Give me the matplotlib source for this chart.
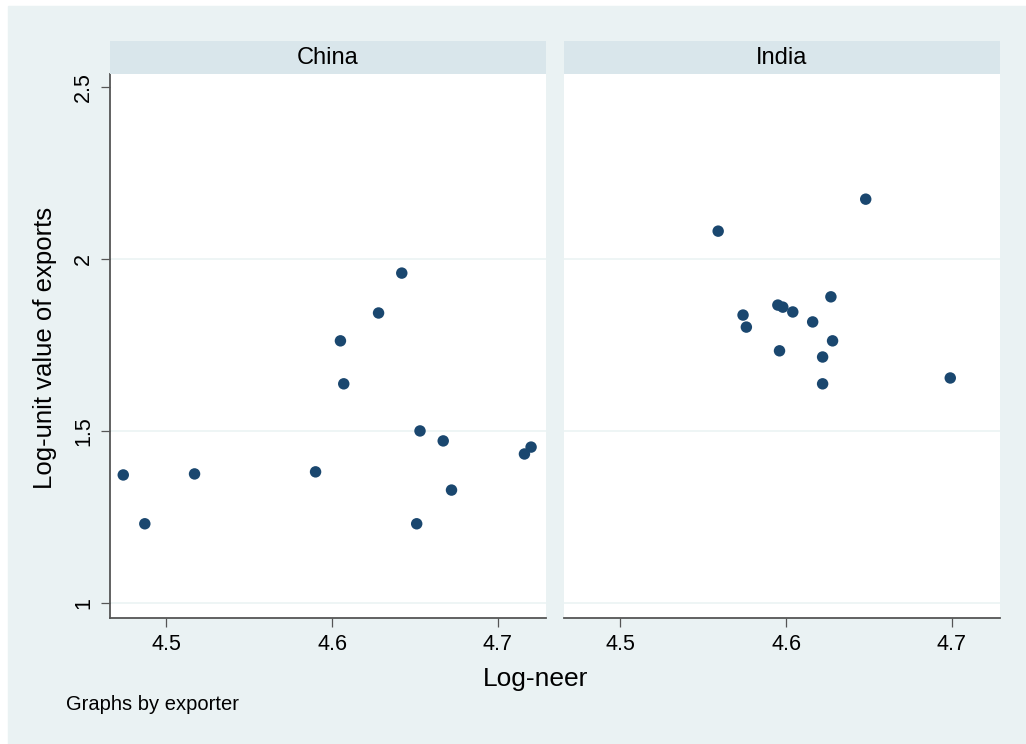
import matplotlib
matplotlib.use("Agg")
import matplotlib.pyplot as plt
from matplotlib.patches import Rectangle

plt.rcParams.update({"font.family": ["Liberation Sans", "DejaVu Sans"]})

# data
panels = ["China", "India"]
china_x = [4.474, 4.487, 4.517, 4.590, 4.605, 4.607, 4.628, 4.642, 4.653, 4.651, 4.667, 4.672, 4.716, 4.720]
china_y = [1.372, 1.230, 1.375, 1.381, 1.762, 1.637, 1.843, 1.959, 1.500, 1.230, 1.471, 1.328, 1.433, 1.453]
india_x = [4.559, 4.648, 4.574, 4.576, 4.595, 4.598, 4.604, 4.616, 4.627, 4.596, 4.628, 4.622, 4.622, 4.699]
india_y = [2.081, 2.174, 1.837, 1.802, 1.866, 1.860, 1.846, 1.817, 1.890, 1.733, 1.762, 1.715, 1.637, 1.654]
xticks = [4.5, 4.6, 4.7]
yticks = [1, 1.5, 2, 2.5]
ytlabels = ["1", "1.5", "2", "2.5"]
gridy = [1, 1.5, 2]

BG = "#EAF2F3"; HEAD = "#D9E6EB"; DOT = "#1A476F"; AX = "#555555"
W, H = 1026, 744
fig = plt.figure(figsize=(W/100, H/100), dpi=100, facecolor="white")
fig.patches.append(Rectangle((8/W, 0), 1, 1-6/H, transform=fig.transFigure, color=BG, zorder=-10))

def fx(px): return px/W
def fy(py): return 1-py/H

data = [(china_x, china_y), (india_x, india_y)]
lefts = [110, 564]
for i, (name, (xs, ys)) in enumerate(zip(panels, data)):
    l = lefts[i]
    ax = fig.add_axes([fx(l), fy(618), fx(436), (618-74)/H])
    ax.set_facecolor("white")
    ax.set_xlim(4.466, 4.729); ax.set_ylim(0.956, 2.538)
    for yv in gridy:
        ax.axhline(yv, color=BG, lw=1.1, zorder=1)
    ax.scatter(xs, ys, s=68, color=DOT, edgecolors="none", zorder=3)
    for s in ["top", "right"]:
        ax.spines[s].set_visible(False)
    ax.spines["bottom"].set_color(AX); ax.spines["bottom"].set_linewidth(1.3)
    ax.set_xticks(xticks); ax.set_xticklabels([str(t) for t in xticks])
    ax.tick_params(axis="x", length=6.5, width=0.9, color=AX, labelsize=15.5, pad=5)
    if i == 0:
        ax.spines["left"].set_color(AX); ax.spines["left"].set_linewidth(1.3)
        ax.set_yticks(yticks); ax.set_yticklabels(ytlabels, rotation=90, va="center")
        ax.tick_params(axis="y", length=6.5, width=0.9, color=AX, labelsize=15.5, pad=5)
    else:
        ax.spines["left"].set_visible(False)
        ax.set_yticks([])
    hx = fig.add_axes([fx(l), fy(74), fx(436), (74-41)/H])
    hx.set_facecolor(HEAD)
    hx.set_xticks([]); hx.set_yticks([])
    for s in hx.spines.values(): s.set_visible(False)
    hx.text(0.5, 0.5, name, ha="center", va="center", fontsize=17)

fig.text(fx(536), fy(679), "Log-neer", ha="center", va="center", fontsize=19)
fig.text(fx(45), fy(348), "Log-unit value of exports", ha="center", va="center", rotation=90, fontsize=18.5)
fig.text(fx(66), fy(705), "Graphs by exporter", ha="left", va="center", fontsize=14.5)

fig.savefig("out.png", dpi=100, facecolor="white")
